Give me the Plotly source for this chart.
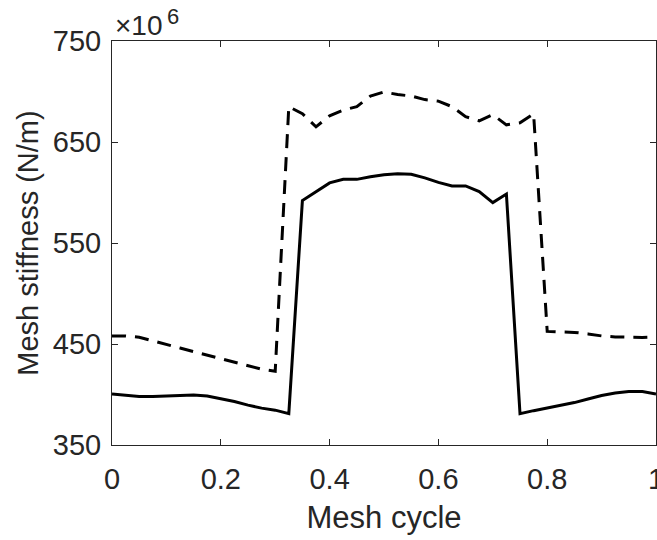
import plotly.graph_objects as go

# Mesh cycle positions
x = [0.0, 0.025, 0.05, 0.075, 0.1, 0.125, 0.15, 0.175, 0.2, 0.225, 0.25, 0.275,
     0.3, 0.325, 0.35, 0.375, 0.4, 0.425, 0.45, 0.475, 0.5, 0.525, 0.55, 0.575,
     0.6, 0.625, 0.65, 0.675, 0.7, 0.725, 0.75, 0.775, 0.8, 0.825, 0.85, 0.875,
     0.9, 0.925, 0.95, 0.975, 1.0]

# Mesh stiffness, in units of 1e6 N/m
solid = [400.5, 399, 398, 398, 398.5, 399, 399.5, 398.5, 396, 393, 389.5, 386.5,
         384.5, 381, 592, 601, 609.5, 613, 613, 615.5, 617.5, 618.5, 618, 614.5,
         610, 606.5, 606.5, 601, 590, 598.5, 381, 384, 386.5, 389, 392, 395.5,
         399, 401.5, 403, 403, 400.5]

dashed = [458, 458, 456.7, 453, 449, 446, 442.5, 439, 436, 432.5, 429, 425,
          423, 685, 678, 665, 676, 681.5, 685, 695.5, 699.5, 697, 695.5, 692,
          690.5, 685, 675, 671, 677, 667, 669, 678, 462.5, 462, 461.5, 460,
          458, 457, 456.5, 456.5, 457]

xticks = [0, 0.2, 0.4, 0.6, 0.8, 1]
xticklabels = ["0", "0.2", "0.4", "0.6", "0.8", "1"]
yticks = [350, 450, 550, 650, 750]
yticklabels = ["350", "450", "550", "650", "750"]

font_family = "Liberation Sans, Arial, Helvetica, sans-serif"
ink = "#262626"

fig = go.Figure()
fig.add_trace(go.Scatter(x=x, y=dashed, mode="lines",
                         line=dict(color="black", width=3, dash="14px,9px"),
                         showlegend=False))
fig.add_trace(go.Scatter(x=x, y=solid, mode="lines",
                         line=dict(color="black", width=3),
                         showlegend=False))

axis_common = dict(showline=True, linecolor=ink, linewidth=1,
                   mirror="ticks", ticks="inside", ticklen=6, tickwidth=1,
                   tickcolor=ink, showgrid=False, zeroline=False,
                   automargin=False, ticklabeloverflow="allow",
                   tickfont=dict(family=font_family, size=29, color=ink))

fig.update_xaxes(range=[0, 1], tickvals=xticks, ticktext=xticklabels,
                 ticklabelstandoff=8,
                 title=dict(text="Mesh cycle",
                            font=dict(family=font_family, size=31, color=ink),
                            standoff=12),
                 **axis_common)
fig.update_yaxes(range=[350, 750], tickvals=yticks, ticktext=yticklabels,
                 ticklabelstandoff=4,
                 title=dict(text="Mesh stiffness (N/m)",
                            font=dict(family=font_family, size=29, color=ink),
                            standoff=5),
                 **axis_common)

# exponent label
fig.add_annotation(xref="paper", yref="paper", x=0, y=1, xanchor="left",
                   yanchor="middle", showarrow=False, yshift=16, xshift=1,
                   text="×10",
                   font=dict(family=font_family, size=28, color=ink))
fig.add_annotation(xref="paper", yref="paper", x=0, y=1, xanchor="left",
                   yanchor="middle", showarrow=False, yshift=25, xshift=53,
                   text="6",
                   font=dict(family=font_family, size=22, color=ink))

fig.update_layout(width=657, height=540, plot_bgcolor="white",
                  paper_bgcolor="white",
                  margin=dict(l=112, r=1, t=41, b=95, autoexpand=False))

fig.write_html("out.html",
               config={"displayModeBar": False},
               post_script="document.body.style.margin='0';"
                           "document.body.style.overflow='hidden';")
